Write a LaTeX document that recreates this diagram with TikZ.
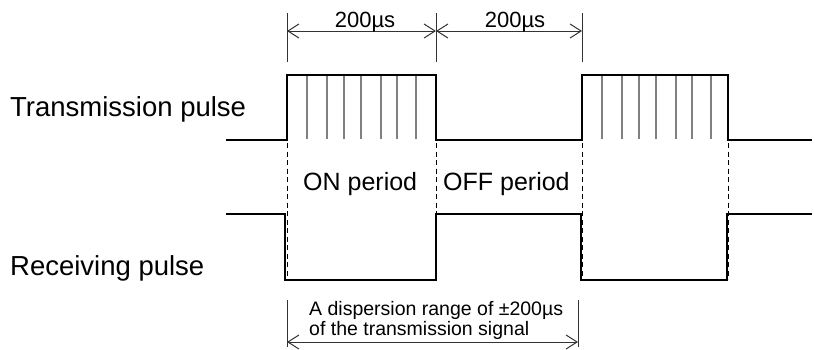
\documentclass[tikz,border=0pt]{standalone}
\usepackage{fontspec}
\setmainfont{Liberation Sans}
\usetikzlibrary{arrows.meta}
\tikzset{
  pulse/.style={line width=2.2pt, line join=miter},
  hatch/.style={line width=1.2pt, black!50},
  guide/.style={line width=1pt, dash pattern=on 5pt off 3.5pt},
  dimline/.style={line width=1pt, black!80},
  dimarrow/.style={dimline, {Straight Barb[length=11pt,width=14pt]}-{Straight Barb[length=11pt,width=14pt]}},
  lbl/.style={inner sep=0pt, anchor=base west},
}
\begin{document}
\begin{tikzpicture}[x=1pt,y=-1pt]
\useasboundingbox (0,0) rectangle (815,349);
% transmission pulse
\draw[pulse] (226,140) -- (287,140) -- (287,75) -- (436,75) -- (436,140)
  -- (582,140) -- (582,75) -- (728,75) -- (728,140) -- (812,140);
\foreach \d in {20,40,57,74,94,110,129} {
  \draw[hatch] (287+\d,76) -- (287+\d,139);
  \draw[hatch] (582+\d,76) -- (582+\d,139);
}
% receiving pulse
\draw[pulse] (226,214) -- (285,214) -- (285,280) -- (436,280) -- (436,214)
  -- (581,214) -- (581,280) -- (727,280) -- (727,214) -- (812,214);
% guides
\foreach \x in {287,436,582,728}
  \draw[guide] (\x,143) -- (\x,279);
% top dimensions
\foreach \x in {287,436,582}
  \draw[dimline] (\x,13) -- (\x,62);
\coordinate (t1) at (287,31);
\coordinate (t2) at (436,31);
\coordinate (t3) at (582,31);
\draw[dimarrow] (t1) -- (t2);
\draw[dimarrow] (t2) -- (t3);
\node[inner sep=0pt, anchor=base, font=\fontsize{22}{26}\selectfont] (onlen) at (365,27) {200µs};
\node[inner sep=0pt, anchor=base, font=\fontsize{22}{26}\selectfont] (offlen) at (515,27) {200µs};
% bottom dimension
\draw[dimline] (287,300) -- (287,347);
\draw[dimline] (578,300) -- (578,347);
\coordinate (d1) at (287,342);
\coordinate (d2) at (578,342);
\draw[dimarrow] (d1) -- (d2);
\node[lbl, font=\fontsize{19.5}{20}\selectfont] (disp1) at (309,315) {A dispersion range of ±200µs};
\node[lbl, font=\fontsize{19.5}{20}\selectfont] (disp2) at (309,335) {of the transmission signal};
% labels
\node[lbl, font=\fontsize{27.5}{32}\selectfont] (tx) at (10,116) {Transmission pulse};
\node[lbl, font=\fontsize{27.5}{32}\selectfont] (rx) at (10,275) {Receiving pulse};
\node[lbl, font=\fontsize{25}{30}\selectfont] (on) at (303,190) {ON period};
\node[lbl, font=\fontsize{25}{30}\selectfont] (off) at (443,190) {OFF period};
\end{tikzpicture}
\end{document}
